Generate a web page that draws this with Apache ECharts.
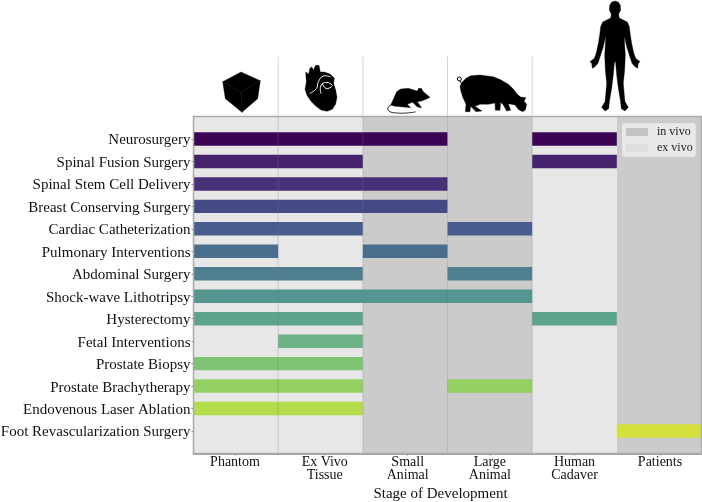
<!DOCTYPE html>
<html><head><meta charset="utf-8">
<style>html,body{margin:0;padding:0;background:#fff}#c{width:702px;height:502px}</style>
<script src="https://cdn.jsdelivr.net/npm/echarts@6/dist/echarts.min.js"></script>
</head><body><div id="c"></div>
<script>
const procedures = ["Neurosurgery","Spinal Fusion Surgery","Spinal Stem Cell Delivery","Breast Conserving Surgery","Cardiac Catheterization","Pulmonary Interventions","Abdominal Surgery","Shock-wave Lithotripsy","Hysterectomy","Fetal Interventions","Prostate Biopsy","Prostate Brachytherapy","Endovenous Laser Ablation","Foot Revascularization Surgery"];
const stages = ["Phantom","Ex Vivo\nTissue","Small\nAnimal","Large\nAnimal","Human\nCadaver","Patients"];
const stageLabelAt = [0.49,1.55,2.53,3.5,4.5,5.51];
const inVivoStages = [2,3,5];
const exVivoStages = [0,1,4];
const separators = [1,2,3,4];
const separatorTop = -3.67;
const rowColors = ["#3d0456","#44226c","#473278","#434a85","#485d8d","#4a6f8e","#4f7f8e","#559590","#5ea48a","#6cb286","#7ec473","#93d061","#b2dc4a","#d5e03c"];
// [procedure row, first stage, stage after the last]
const spans = [[0,0,3],[0,4,5],[1,0,2],[1,4,5],[2,0,3],[3,0,3],[4,0,2],[4,3,4],[5,0,1],[5,2,3],[6,0,2],[6,3,4],[7,0,4],[8,0,2],[8,4,5],[9,1,2],[10,0,2],[11,0,2],[11,3,4],[12,0,2],[13,5,6]];

function bandRender(p, api){
  const a = api.coord([api.value(0), -1]), b = api.coord([api.value(0)+1, 14]);
  return {type:'rect', shape:{x:a[0],y:a[1],width:b[0]-a[0],height:b[1]-a[1]}, style:{fill:api.visual('color')}};
}
function barRender(p, api){
  const r = api.value(2), a = api.coord([api.value(0), r]), b = api.coord([api.value(1), r]);
  const h = api.size([0,1])[1]*0.6;
  return {type:'rect', shape:{x:a[0],y:a[1]-h/2,width:b[0]-a[0],height:h}, style:{fill:rowColors[r]}};
}
function sepRender(p, api){
  const a = api.coord([api.value(0), separatorTop]), b = api.coord([api.value(0), 14]);
  return {type:'line', shape:{x1:a[0],y1:a[1],x2:b[0],y2:b[1]}, style:{stroke:'rgba(120,120,120,0.3)',lineWidth:1}};
}
const icon = (ox,oy,children)=>({type:'group',x:ox,y:oy,scaleX:1/3,scaleY:1/3,silent:true,children});
const poly = (points)=>({type:'polygon',shape:{points},style:{fill:'#000',stroke:'#000',lineWidth:1,lineJoin:'round'}});
const stroke = (points,color,w,smooth)=>({type:'polyline',shape:{points,smooth:smooth||0},style:{fill:'none',stroke:color,lineWidth:w,lineCap:'round'}});
const man = [[90,3],[100,6],[106,16],[107,30],[101,42],[103,54],[115,60],[127,66],[133,80],[136,105],[140,130],[146,158],[152,175],[165,185],[160,190],[158,205],[150,200],[141,190],[133,165],[125,140],[118,108],[119,135],[121,165],[119,210],[115,250],[118,285],[120,305],[130,322],[120,333],[109,326],[106,300],[100,265],[95,225],[92,190],[90,183]];
const manFull = man.concat(man.slice(1,-1).reverse().map(p=>[180-p[0],p[1]]));

const option = {
  animation:false,
  textStyle:{fontFamily:'"Liberation Serif"'},
  grid:{left:193.5,top:116.5,width:508,height:337,outerBoundsMode:'none'},
  legend:{left:622,top:123,orient:'vertical',icon:'rect',itemWidth:22,itemHeight:8,itemGap:4,padding:[3,3,3,4],
    data:[{name:'in vivo',itemStyle:{color:'#c4c4c4'}},{name:'ex vivo',itemStyle:{color:'#dedede'}}],
    backgroundColor:'rgba(235,235,235,0.9)',borderRadius:3,selectedMode:false,
    textStyle:{fontFamily:'"Liberation Serif"',fontSize:12,color:'#222',padding:[0,0,0,4]}},
  xAxis:{type:'value',min:0,max:6,position:'bottom',splitLine:{show:false},
    axisLine:{onZero:false,lineStyle:{color:'#888',width:1.5}},
    axisTick:{length:2,lineStyle:{color:'#888'},customValues:stageLabelAt},
    axisLabel:{customValues:stageLabelAt,hideOverlap:false,showMinLabel:true,showMaxLabel:true,
      formatter:v=>stages[stageLabelAt.indexOf(v)],fontFamily:'"Liberation Serif"',fontSize:14,lineHeight:13,color:'#111',margin:2},
    name:'Stage of Development',nameLocation:'middle',nameGap:33,
    nameTextStyle:{fontFamily:'"Liberation Serif"',fontSize:15,color:'#111',padding:[0,14,0,0]}},
  yAxis:{type:'value',inverse:true,min:-1,max:14,interval:1,splitLine:{show:false},
    axisLine:{onZero:false,lineStyle:{color:'#888',width:1.5}},
    axisTick:{length:2,lineStyle:{color:'#888'},customValues:procedures.map((_,i)=>i)},
    axisLabel:{customValues:procedures.map((_,i)=>i),hideOverlap:false,formatter:v=>'{t|'+procedures[v]+'}',margin:3,
      rich:{t:{fontFamily:'"Liberation Serif"',fontSize:15,color:'#111',padding:[3,0,0,0]}}}},
  series:[
    {name:'in vivo',type:'custom',z:1,silent:true,renderItem:bandRender,itemStyle:{color:'#cbcbcb'},data:inVivoStages.map(s=>[s]),encode:{x:0}},
    {name:'ex vivo',type:'custom',z:1,silent:true,renderItem:bandRender,itemStyle:{color:'#e7e7e7'},data:exVivoStages.map(s=>[s]),encode:{x:0}},
    {name:'spans',type:'custom',z:2,silent:true,renderItem:barRender,data:spans.map(s=>[s[1],s[2],s[0]]),encode:{x:[0,1],y:2}},
    {name:'separators',type:'custom',z:3,silent:true,clip:false,renderItem:sepRender,data:separators.map(s=>[s]),encode:{x:0}}
  ],
  graphic:{elements:[
    {type:'rect',z:4,silent:true,shape:{x:193.5,y:116.5,width:508,height:337},style:{fill:'none',stroke:'#aaa',lineWidth:1.5}},
    icon(215,60,[
      poly([[78,36],[136,62],[128,116],[81,157],[31,116],[23,65]]),
      stroke([[23,65],[78,98],[136,62]],'#333',1.5),
      stroke([[78,98],[81,157]],'#333',1.5)
    ]),
    icon(215,60,[
      poly([[272,36],[281,42],[284,26],[290,20],[295,30],[302,16],[312,16],[316,36],[328,36],[345,42],[358,54],[356,72],[362,90],[366,112],[362,132],[352,148],[336,154],[318,150],[302,138],[288,124],[276,106],[270,88],[274,66]]),
      stroke([[285,100],[305,85],[310,65],[325,48],[345,50]],'#fff',3,0.4),
      stroke([[318,100],[316,82],[324,70],[340,68],[352,76]],'#fff',3,0.4),
      stroke([[322,72],[334,86],[350,80]],'#fff',3,0.4)
    ]),
    icon(380,65,[
      poly([[40,103],[50,80],[62,72],[85,70],[112,78],[116,70],[124,70],[130,80],[150,97],[138,103],[125,108],[112,110],[125,128],[112,126],[98,112],[82,118],[92,128],[70,126],[45,124],[32,120]]),
      stroke([[42,116],[25,126],[26,138],[50,144],[80,144],[106,141]],'#000',2.5,0.4)
    ]),
    icon(380,65,[
      poly([[246,52],[258,40],[272,32],[300,30],[340,35],[362,44],[385,58],[400,72],[412,88],[422,96],[438,98],[432,108],[440,118],[436,135],[428,140],[416,134],[405,120],[385,116],[392,136],[380,138],[370,120],[362,112],[360,136],[346,136],[345,114],[325,118],[300,118],[285,124],[306,138],[288,140],[272,124],[270,140],[256,140],[258,118],[248,96],[242,76],[240,64]]),
      {type:'circle',shape:{cx:238,cy:42,r:6},style:{fill:'none',stroke:'#000',lineWidth:3}},
      stroke([[240,48],[246,58]],'#000',3)
    ]),
    icon(585,0,[poly(manFull)])
  ]}
};
echarts.init(document.getElementById('c'),null,{renderer:'canvas'}).setOption(option);
</script></body></html>
